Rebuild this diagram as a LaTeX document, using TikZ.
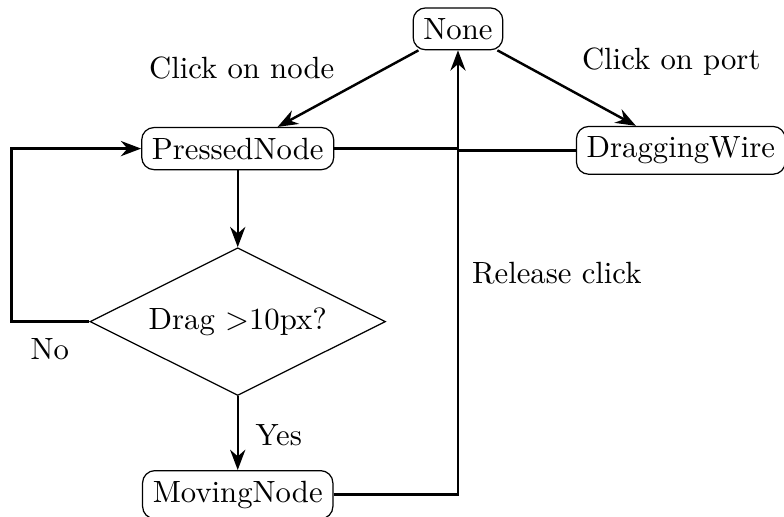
\documentclass[tikz,border=0pt]{standalone}
\usetikzlibrary{shapes.geometric,arrows.meta}
\begin{document}
\begin{tikzpicture}[
    state/.style={draw,rounded corners},
    decision/.style={draw,diamond,aspect=2},
    flow/.style={thick,-Stealth},
  ]
      \useasboundingbox (0,0) rectangle (8.97,-5.915);

      \node[state] (none) at (5.24,-0.33) {None};
      \node[state] (pressed) at (2.72,-1.70) {PressedNode};
      \node[state] (dragging) at (7.79,-1.72) {DraggingWire};
      \node[decision] (drag) at (2.72,-3.68) {Drag >10px?};
      \node[state] (moving) at (2.72,-5.66) {MovingNode};

      \draw[flow] (none) -- (pressed);
      \draw[flow] (none) -- (dragging);
      \draw[flow] (pressed) -- (drag);
      \draw[flow] (drag) -- (moving);
      \draw[flow] (drag.west) -- ++(-0.89,0) |- (pressed.west);
      \draw[flow] (moving.east) -| (none.south);
      \draw[thick] (pressed.east) -- (pressed.east -| none.south);
      \draw[thick] (dragging.west) -- (dragging.west -| none.south);

      \node (lnode) at (2.765,-0.78) {Click on node};
      \node (lport) at (7.68,-0.70) {Click on port};
      \node (lrel) at (6.37,-3.13) {Release click};
      \node (lno) at (0.57,-4.00) {No};
      \node (lyes) at (3.19,-4.98) {Yes};
    \end{tikzpicture}
\end{document}
